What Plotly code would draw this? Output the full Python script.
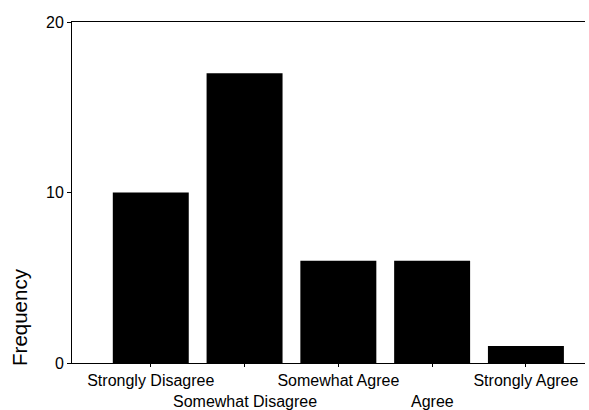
import plotly.graph_objects as go

categories = ["Strongly Disagree", "Somewhat Disagree", "Somewhat Agree", "Agree", "Strongly Agree"]
frequency = [10, 17, 6, 6, 1]
y_ticks = [0, 10, 20]

upper_labels = [c if i % 2 == 0 else "" for i, c in enumerate(categories)]

fig = go.Figure()
fig.add_trace(go.Bar(
    x=list(range(len(categories))), y=frequency,
    marker=dict(color="black", line=dict(width=0)),
    width=0.81,
))

font = "Liberation Sans, Arial, sans-serif"
fig.update_layout(
    width=589, height=410,
    margin=dict(l=72, r=4, t=22, b=47),
    plot_bgcolor="white", paper_bgcolor="white",
    showlegend=False,
    font=dict(family=font, color="black", size=15),
    xaxis=dict(
        range=[-0.84, 4.63],
        tickvals=list(range(len(categories))), ticktext=upper_labels,
        ticks="outside", ticklen=3, tickcolor="black",
        showline=True, linecolor="black", linewidth=1, mirror=True,
        showgrid=False, zeroline=False,
        tickfont=dict(size=16, family=font),
    ),
    yaxis=dict(
        range=[0, 20], tickvals=y_ticks,
        ticks="outside", ticklen=4, tickcolor="black",
        showline=True, linecolor="black", linewidth=1,
        showgrid=False, zeroline=False,
        tickfont=dict(size=16, family=font),
    ),
)

for i, c in enumerate(categories):
    if i % 2 == 1:
        fig.add_annotation(x=i, y=0, xref="x", yref="paper", yshift=-38, yanchor="middle",
                           text=c, showarrow=False, font=dict(size=16, family=font))

fig.add_annotation(x=-0.1014, y=0.135, xref="paper", yref="paper", text="Frequency",
                   xanchor="center", yanchor="middle",
                   textangle=-90, showarrow=False, font=dict(size=20.5, family=font))

fig.write_html(
    "out.html",
    config={"displayModeBar": False},
    post_script="document.body.style.margin='0';document.body.style.overflow='hidden';",
)
